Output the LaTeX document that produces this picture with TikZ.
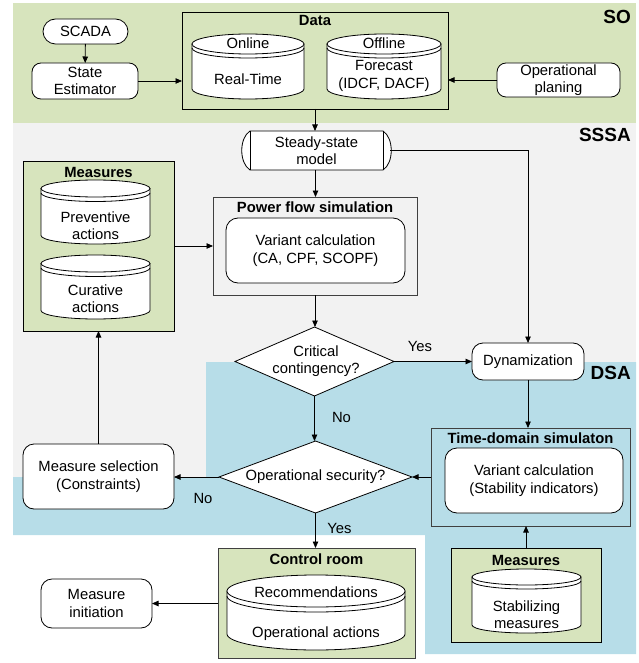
\documentclass[tikz,border=0pt]{standalone}
\usepackage{fontspec}
\setmainfont{Liberation Sans}
\usetikzlibrary{shapes.geometric,arrows.meta}
\definecolor{sogreen}{HTML}{D7E4BD}
\definecolor{ssgray}{HTML}{F2F2F2}
\definecolor{dsblue}{HTML}{B7DDE8}
\definecolor{framegray}{HTML}{404040}
\tikzset{
  txt/.style={align=center, inner sep=0, font=\fontsize{14.8}{17.5}\selectfont},
  ttl/.style={align=center, inner sep=0, font=\fontsize{14.8}{17.5}\selectfont\bfseries},
  region/.style={inner sep=0, anchor=east, font=\fontsize{19}{22}\selectfont\bfseries},
  ln/.style={line width=0.8pt, draw=black},
  rbox/.style={ln, fill=white, rounded corners=9pt, inner sep=0, outer sep=0},
  frm/.style={line width=0.9pt, draw=black, inner sep=0, outer sep=0},
  cyl/.style={ln, fill=white},
  dia/.style={ln, fill=white, diamond, inner sep=0, outer sep=0},
  arr/.style={ln, -{Triangle[length=6.5pt,width=5.5pt]}},
}
% name, x0, y0, x1, y1, ry, offset
\newcommand{\dbcyl}[7]{%
  \pgfmathsetmacro{\cylcx}{(#2+#4)/2}%
  \pgfmathsetmacro{\cylrx}{(#4-#2)/2}%
  \draw[cyl] (#2,#3+#6) -- (#2,#5-#6) arc[start angle=180,end angle=0,x radius=\cylrx,y radius=#6] -- (#4,#3+#6) -- cycle;
  \draw[cyl] (\cylcx,#3+#6) ellipse[x radius=\cylrx, y radius=#6];
  \draw[ln] (#2,#3+#6+#7) arc[start angle=180,end angle=0,x radius=\cylrx,y radius=#6];
  \node[inner sep=0,outer sep=0,minimum width={(#4-#2)*1pt},minimum height={(#5-#3)*1pt}] (#1) at (\cylcx,{(#3+#5)/2}) {};
}
% [opts] name, x0, y0, x1, y1, text
\newcommand{\bx}[7][]{%
  \node[#1, minimum width={(#5-#3)*1pt}, minimum height={(#6-#4)*1pt}, align=center, font=\fontsize{14.8}{17.5}\selectfont] (#2) at ({(#3+#5)/2},{(#4+#6)/2}) {#7};
}
\begin{document}
\begin{tikzpicture}[x=1pt,y=1pt,yscale=-1]
\useasboundingbox (0,0) rectangle (638,663);
% regions
\fill[sogreen] (13,3) rectangle (636,123);
\fill[ssgray] (13,123) rectangle (636,535);
\fill[dsblue] (206,362) -- (636,362) -- (636,654) -- (425,654) -- (425,535) -- (13,535) -- (13,477) -- (206,477) -- cycle;
\node[region] (lso) at (631,17) {SO};
\node[region] (lsssa) at (631,135) {SSSA};
\node[region] (ldsa) at (631,373) {DSA};

% SO
\bx[rbox, rounded corners=12.5pt]{scada}{43}{19}{128}{44}{SCADA}
\bx[rbox]{se}{32}{63}{138}{99}{State\\Estimator}
\bx[frm, fill=sogreen]{data}{182}{12}{448}{109}{}
\node[ttl] (datat) at (315,20) {Data};
\dbcyl{online}{192}{34}{304}{99}{10}{4}
\node[txt] (online-a) at (248,43.5) {Online};
\node[txt] (online-b) at (248,79) {Real-Time};
\dbcyl{offline}{327}{34}{441}{99}{10}{4}
\node[txt] (offline-a) at (384,43.5) {Offline};
\node[txt] (offline-b) at (384,76) {Forecast\\(IDCF, DACF)};
\bx[rbox]{op}{497}{63}{620}{97}{Operational\\planing}

% SSSA
\draw[ln, fill=white] (250,131) -- (383,131) .. controls (394,138) and (394,163) .. (383,170) -- (250,170) .. controls (239,163) and (239,138) .. (250,131) -- cycle;
\draw[ln] (250,131) -- (250,170) (383,131) -- (383,170);
\node[inner sep=0, outer sep=0, minimum width=149pt, minimum height=39pt] (steady) at (315.5,150.5) {};
\node[txt] (steady-t) at (316.5,150.5) {Steady-state\\model};

\bx[frm, draw=framegray, fill=ssgray]{pfs}{213}{197}{417}{295}{}
\node[ttl] (pfst) at (315,207) {Power flow simulation};
\bx[rbox, rounded corners=12pt]{pfsin}{226}{218}{405}{283}{Variant calculation\\(CA, CPF, SCOPF)}

\bx[frm, fill=sogreen]{meas1}{23}{161}{174}{331}{}
\node[ttl] (meas1t) at (98.5,172) {Measures};
\dbcyl{prev}{41}{180}{150}{244}{8.5}{4.5}
\node[txt] (prev-t) at (95.5,225.5) {Preventive\\actions};
\dbcyl{cur}{41}{255}{150}{319}{8.5}{4.5}
\node[txt] (cur-t) at (95.5,298.5) {Curative\\actions};

\node[dia, minimum width=159pt, minimum height=69pt] (crit) at (314.5,361.5) {};
\node[txt] (crit-t) at (316,361) {Critical\\contingency?};

\bx[rbox, rounded corners=11pt]{dyn}{472}{343}{584}{380}{Dynamization}

% DSA
\bx[frm, draw=framegray, fill=dsblue]{tds}{431}{428}{630}{526}{}
\node[ttl] (tdst) at (530.5,438) {Time-domain simulaton};
\bx[rbox, rounded corners=12pt]{tdsin}{445}{448}{623}{513}{Variant calculation\\(Stability indicators)}

\node[dia, minimum width=193pt, minimum height=72pt] (opsec) at (315.5,477) {};
\node[txt] (opsec-t) at (315.5,477) {Operational security?};

\bx[rbox, rounded corners=11pt]{msel}{23}{444}{174}{509}{Measure selection\\(Constraints)}

\bx[frm, draw=framegray, fill=sogreen]{ctrl}{218}{548}{415}{658}{}
\node[ttl] (ctrlt) at (316.5,559) {Control room};
\dbcyl{rec}{227}{575}{405}{650}{16}{5}
\node[txt] (rec-a) at (316,592.5) {Recommendations};
\node[txt] (rec-b) at (316,634) {Operational actions};

\bx[rbox, rounded corners=11pt]{minit}{41}{579}{152}{628}{Measure\\initiation}

\bx[frm, fill=sogreen]{meas2}{451}{548}{601}{642}{}
\node[ttl] (meas2t) at (526,560) {Measures};
\dbcyl{stab}{472}{569}{581}{633}{8}{4}
\node[txt] (stab-t) at (526.5,614.5) {Stabilizing\\measures};

% connectors
\draw[arr] (scada) -- (se);
\draw[arr] (se.east) -- (se.east -| data.west);
\draw[arr] (op.west) -- (op.west -| data.east);
\draw[arr] (data.south) -- (data.south |- steady.north);
\draw[arr] (steady.south) -- (steady.south |- pfs.north);
\draw[arr] (steady.east) -| (dyn.north);
\draw[arr] (meas1.east) -- (meas1.east -| pfs.west);
\draw[arr] (pfs.south) -- (pfs.south |- crit.north);
\draw[arr] (crit.east) -- (crit.east -| dyn.west);
\node[txt] (yes1) at (420,346) {Yes};
\draw[arr] (crit.south) -- (crit.south |- opsec.north);
\node[txt] (no1) at (341.5,417) {No};
\draw[arr] (dyn.south) -- (dyn.south |- tds.north);
\draw[arr] (tds.west |- opsec.east) -- (opsec.east);
\draw[arr] (opsec.west) -- (opsec.west -| msel.east);
\node[txt] (no2) at (203,498) {No};
\draw[arr] (msel.north) -- (meas1.south);
\draw[arr] (opsec.south) -- (opsec.south |- ctrl.north);
\node[txt] (yes2) at (339.5,528) {Yes};
\draw[arr] (ctrl.west |- minit.east) -- (minit.east);
\draw[arr] (meas2.north) -- (meas2.north |- tds.south);
\end{tikzpicture}
\end{document}
